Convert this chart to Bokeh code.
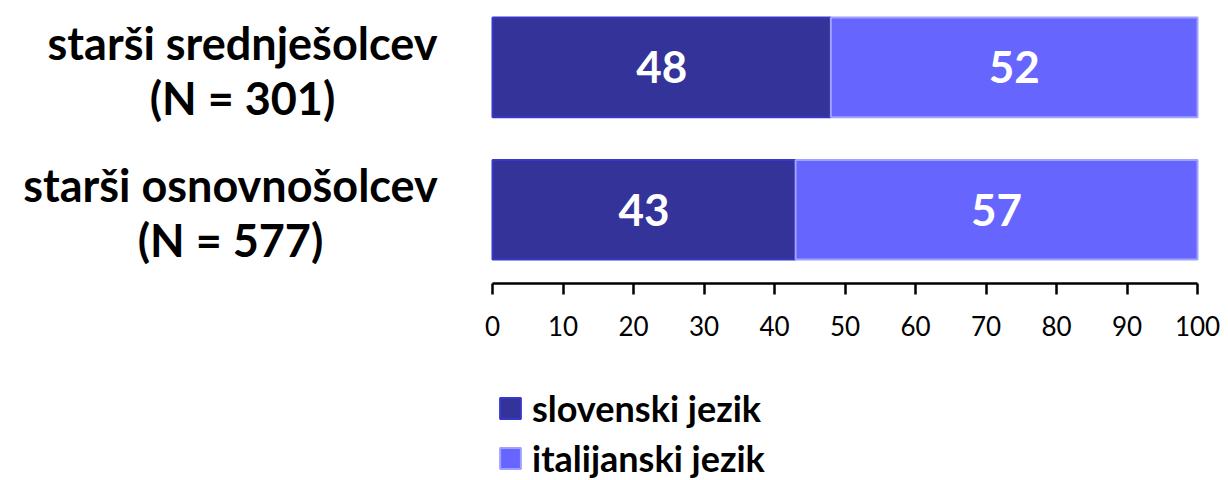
from bokeh.plotting import figure
from bokeh.models import ColumnDataSource, Legend, LegendItem, FixedTicker, Range1d
from bokeh.core.properties import value
from bokeh.embed import file_html
from bokeh.resources import INLINE

# ---- data ----
categories = ["starši osnovnošolcev", "starši srednješolcev"]
sample_sizes = ["N = 577", "N = 301"]
slovenski = [43, 48]
italijanski = [57, 52]
series_names = ["slovenski jezik", "italijanski jezik"]
tick_values = [0, 10, 20, 30, 40, 50, 60, 70, 80, 90, 100]

# ---- styling / layout ----
DARK = "#333399"
LIGHT = "#6666FF"
DARK_EDGE = "#3838C8"
LIGHT_EDGE = "#A0A0FF"
FONT = "Lato"
W, H = 1228, 480
PX_LEFT, PX_RIGHT = 492, 1197        # pixel span of 0..100
PX_AXIS = 283                        # pixel row of the value axis
PX_PER_UNIT_Y = 142.4
label_center_px = [230, 242]         # centre of each two-line category label

ux = (PX_RIGHT - PX_LEFT) / 100.0
x_start = -PX_LEFT / ux
x_end = 100 + (W - PX_RIGHT) / ux
y_axis_val = -0.518
y_end = y_axis_val + PX_AXIS / PX_PER_UNIT_Y
y_start = y_end - H / PX_PER_UNIT_Y

ypos = list(range(len(categories)))
src = ColumnDataSource(dict(
    y=ypos,
    slo_end=slovenski,
    ita_end=[a + b for a, b in zip(slovenski, italijanski)],
    slo_mid=[a / 2 for a in slovenski],
    ita_mid=[a + b / 2 for a, b in zip(slovenski, italijanski)],
    slo_txt=[str(v) for v in slovenski],
    ita_txt=[str(v) for v in italijanski],
))
lab_src = ColumnDataSource(dict(
    x=[(c - PX_LEFT) / ux for c in label_center_px],
    y=ypos,
    text=[f"{c}\n({n})" for c, n in zip(categories, sample_sizes)],
))

p = figure(width=W, height=H, output_backend="svg", toolbar_location=None,
           x_range=Range1d(x_start, x_end), y_range=Range1d(y_start, y_end),
           min_border_left=0, min_border_right=0, min_border_top=0,
           min_border_bottom=0)
p.outline_line_color = None
p.xgrid.visible = False
p.ygrid.visible = False
p.yaxis.visible = False

r1 = p.hbar(y="y", left=0, right="slo_end", height=0.7, source=src,
            fill_color=DARK, line_color=DARK_EDGE, line_width=2)
r2 = p.hbar(y="y", left="slo_end", right="ita_end", height=0.7, source=src,
            fill_color=LIGHT, line_color=LIGHT_EDGE, line_width=2)

p.text(x="slo_mid", y="y", text="slo_txt", source=src, text_color="white",
       text_font=value(FONT), text_font_style="bold", text_font_size="44px",
       text_align="center", text_baseline="middle")
p.text(x="ita_mid", y="y", text="ita_txt", source=src, text_color="white",
       text_font=value(FONT), text_font_style="bold", text_font_size="44px",
       text_align="center", text_baseline="middle")

# category labels
p.text(x="x", y="y", text="text", source=lab_src, text_color="black",
       text_font=value(FONT), text_font_style="bold", text_font_size="45px",
       text_align="center", text_baseline="middle", text_line_height=1.02,
       y_offset=3)

ax = p.xaxis[0]
ax.fixed_location = y_axis_val
ax.bounds = (tick_values[0], tick_values[-1])
ax.ticker = FixedTicker(ticks=tick_values)
ax.minor_tick_line_color = None
ax.major_tick_in = 0
ax.major_tick_out = 11
ax.major_tick_line_width = 2.5
ax.major_tick_line_color = "black"
ax.axis_line_width = 2.5
ax.axis_line_color = "black"
ax.major_label_text_font = FONT
ax.major_label_text_font_size = "26px"
ax.major_label_text_color = "black"
ax.major_label_standoff = 21

legend = Legend(items=[LegendItem(label=series_names[0], renderers=[r1]),
                       LegendItem(label=series_names[1], renderers=[r2])],
                location=(497, 0), orientation="vertical",
                label_text_font=FONT, label_text_font_style="bold",
                label_text_font_size="36px", label_text_color="black",
                glyph_width=26, glyph_height=26, label_standoff=9,
                label_height=40, spacing=6, padding=0, margin=0,
                border_line_color=None, background_fill_alpha=0)
p.add_layout(legend, "center")

open("out.html", "w").write(file_html(p, INLINE))
